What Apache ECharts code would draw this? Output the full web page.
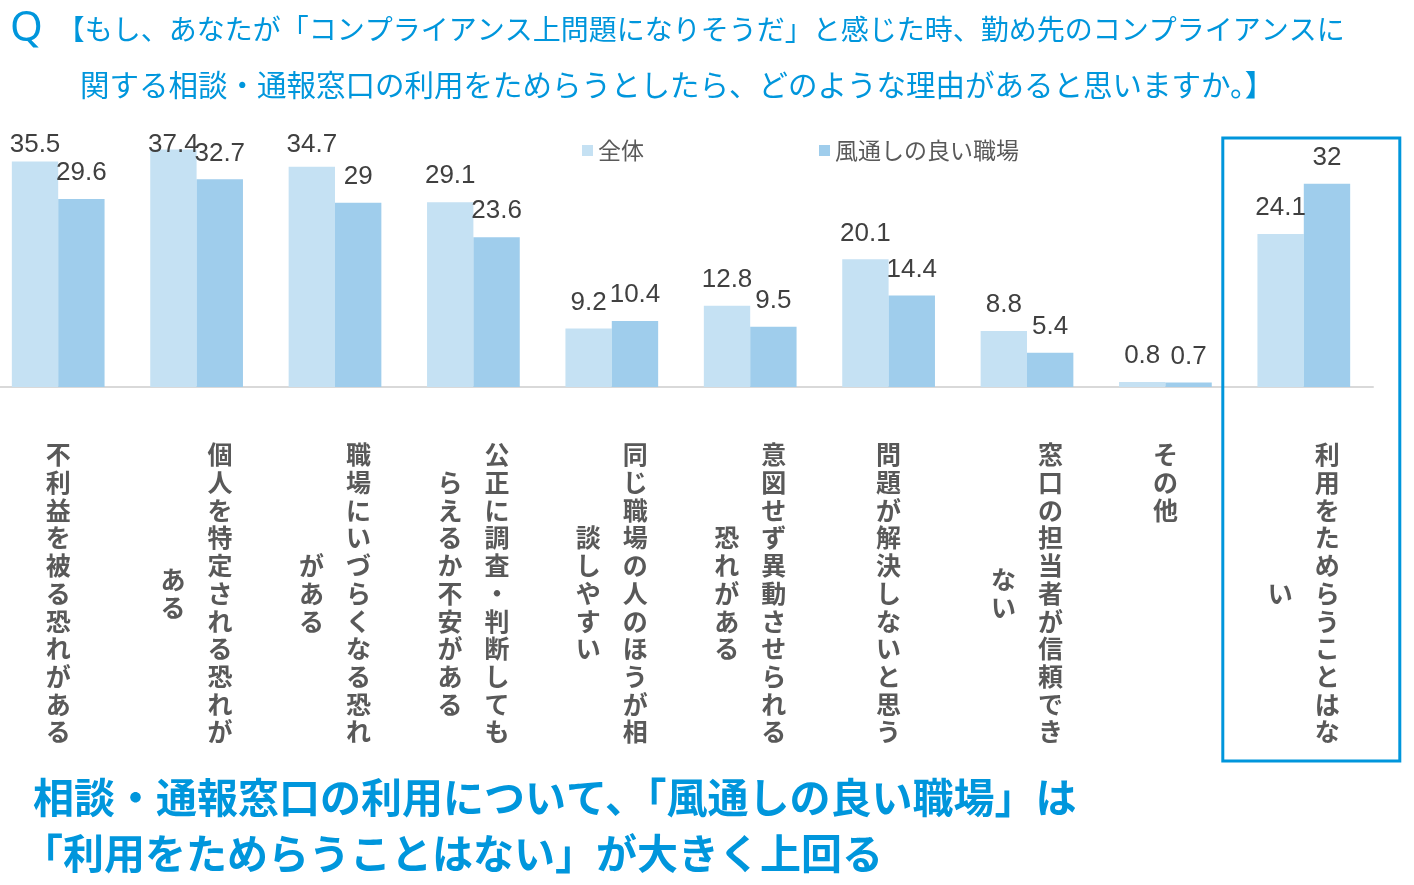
<!DOCTYPE html>
<html><head><meta charset="utf-8">
<script src="https://cdn.jsdelivr.net/npm/echarts@6/dist/echarts.min.js"></script>
<style>html,body{margin:0;padding:0;background:#fff}#c{width:1414px;height:885px}</style>
</head><body><div id="c"></div>
<script>
// ---- data ----
const categories = ['不利益を被る恐れがある','個人を特定される恐れがある','職場にいづらくなる恐れがある','公正に調査・判断してもらえるか不安がある','同じ職場の人のほうが相談しやすい','意図せず異動させられる恐れがある','問題が解決しないと思う','窓口の担当者が信頼できない','その他','利用をためらうことはない'];
const seriesNames = ['全体','風通しの良い職場'];
const valuesAll  = [35.5,37.4,34.7,29.1,9.2,12.8,20.1,8.8,0.8,24.1];
const valuesGood = [29.6,32.7,29,23.6,10.4,9.5,14.4,5.4,0.7,32];
const titleLine1 = '【もし、あなたが「コンプライアンス上問題になりそうだ」と感じた時、勤め先のコンプライアンスに';
const titleLine2 = '関する相談・通報窓口の利用をためらうとしたら、どのような理由があると思いますか。】';
const conclusion = ['相談・通報窓口の利用について、「風通しの良い職場」は','「利用をためらうことはない」が大きく上回る'];
const highlighted = categories[categories.length - 1];

// ---- style ----
const BLUE = '#0096dc';
const COL = 11;          // characters per vertical column
const ROW = 27.7;        // vertical row pitch
const FS = 25;
const labelFont = {fontFamily: 'Noto Sans CJK JP', fontWeight: 'bold', fontSize: FS, color: '#595959', lineHeight: ROW};

const rich = {
  c: Object.assign({width: 26, align: 'center'}, labelFont),
  r: Object.assign({width: 72, align: 'right'}, labelFont),
  l: Object.assign({width: 72, align: 'left'}, labelFont)
};
for (let k = 1; k <= COL; k++) {
  rich['s' + k] = Object.assign({}, labelFont, {width: 72, align: 'left', lineHeight: k * ROW / 2});
}

function rightCol(name) {
  const ch = Array.from(name);
  const tag = ch.length <= COL ? 'c' : 'r';
  return ch.slice(0, COL).map(c => '{' + tag + '|' + c + '}').join('\n');
}
function leftCol(name) {
  const ch = Array.from(name);
  if (ch.length <= COL) return '';
  const rest = ch.slice(COL);
  const half = COL - rest.length;
  return '{s' + half + '|\u3000}\n' + rest.map(c => '{l|' + c + '}').join('\n');
}

const LABEL_DIST = 13;
const MIN_LABEL_BOTTOM = 158;
const valueLabel = {
  show: true, position: 'top', distance: LABEL_DIST,
  fontFamily: 'Liberation Sans', fontSize: 26, color: '#404040'
};
function clampLabel(p) {
  if (p.rect.y - LABEL_DIST < MIN_LABEL_BOTTOM) {
    return {x: p.rect.x + p.rect.width / 2, y: MIN_LABEL_BOTTOM, align: 'center', verticalAlign: 'bottom'};
  }
  return {};
}

const titleFont = {fontFamily: 'Noto Sans CJK JP', fontWeight: 'normal', color: BLUE};
const concFont = {fontFamily: 'Noto Sans CJK JP', fontWeight: 'bold', fontSize: 41, color: BLUE, lineHeight: 56};

const chart = echarts.init(document.getElementById('c'), null, {renderer: 'canvas'});
const option = {
  animation: false,
  backgroundColor: '#fff',
  title: [
    {
      text: '{q|Q}{g|}{t|' + titleLine1 + '}',
      left: 10, top: 8, padding: 0,
      textStyle: {
        fontWeight: 'normal',
        rich: {
          q: {fontFamily: 'Noto Sans', fontWeight: 'normal', fontSize: 42, color: BLUE, lineHeight: 42},
          g: {width: 14, lineHeight: 42},
          t: Object.assign({fontSize: 28, lineHeight: 42}, titleFont)
        }
      }
    },
    {
      text: titleLine2, left: 80, top: 67, padding: 0,
      textStyle: Object.assign({fontSize: 29.5, lineHeight: 36}, titleFont)
    },
    {text: conclusion[0], left: 33, top: 769, padding: 0, textStyle: concFont},
    {text: conclusion[1], left: 22, top: 825, padding: 0, textStyle: concFont}
  ],
  legend: {
    left: 582, top: 139, padding: 0,
    itemWidth: 11, itemHeight: 11, itemGap: 175, itemTextGap: 7,
    icon: 'rect',
    textStyle: {fontFamily: 'Noto Sans CJK JP', fontSize: 23, color: '#595959'},
    data: seriesNames
  },
  grid: {left: -11, right: 41, top: 133, bottom: 498, containLabel: false, outerBoundsMode: 'none'},
  xAxis: [
    {
      type: 'category', data: categories, position: 'bottom',
      axisLine: {show: true, lineStyle: {color: '#d9d9d9', width: 2}},
      axisTick: {show: false},
      axisLabel: {interval: 0, margin: 54, formatter: rightCol, rich: rich}
    },
    {
      type: 'category', data: categories, position: 'bottom',
      axisLine: {show: false}, axisTick: {show: false}, splitLine: {show: false},
      axisLabel: {interval: 0, margin: 54, formatter: leftCol, rich: rich}
    }
  ],
  yAxis: {type: 'value', min: 0, max: 40, show: false},
  series: [
    {
      name: seriesNames[0], type: 'bar', xAxisIndex: 0, data: valuesAll,
      barGap: '0%', barCategoryGap: '33%',
      itemStyle: {color: '#c5e1f3'},
      label: valueLabel,
      labelLayout: clampLabel
    },
    {
      name: seriesNames[1], type: 'bar', xAxisIndex: 0, data: valuesGood,
      barGap: '0%', barCategoryGap: '33%',
      itemStyle: {color: '#9fcdec'},
      label: valueLabel,
      labelLayout: clampLabel
    }
  ]
};
chart.setOption(option);

const cx = chart.convertToPixel({xAxisIndex: 0}, highlighted);
chart.setOption({
  graphic: [{
    type: 'rect', z: 100,
    shape: {x: cx - 81, y: 138, width: 177, height: 623},
    style: {fill: null, stroke: BLUE, lineWidth: 3}
  }]
});
</script>
</body></html>
